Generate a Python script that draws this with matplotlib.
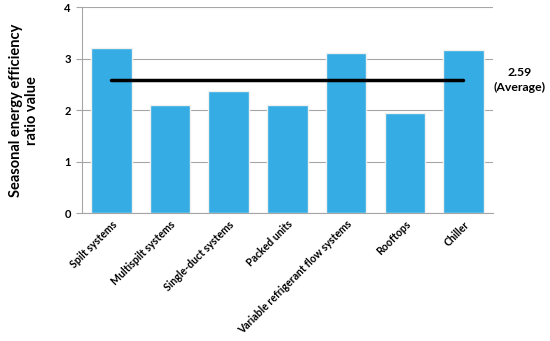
import matplotlib
matplotlib.use("Agg")
import matplotlib.pyplot as plt

categories = ["Spilt systems", "Multispilt systems", "Single-duct systems", "Packed units",
              "Variable refrigerant flow systems", "Rooftops", "Chiller"]
values = [3.20, 2.10, 2.38, 2.10, 3.11, 1.94, 3.17]
average = 2.59
yticks = [0, 1, 2, 3, 4]

plt.rcParams['font.family'] = ['Lato', 'DejaVu Sans']

fig = plt.figure(figsize=(5.5, 3.41), dpi=100)
ax = fig.add_axes([0.149, 0.375, 0.747, 0.604])

x = list(range(len(categories)))
ax.bar(x, values, width=0.69, color="#35ACE3", edgecolor="#f0f0f0", linewidth=1.0, zorder=3)
ax.plot([x[0], x[-1]], [average, average], color="black", linewidth=2.5, zorder=4, solid_capstyle='round')

ax.set_xlim(-0.5, len(categories) - 0.5)
ax.set_ylim(0, 4)
ax.set_yticks(yticks)
ax.set_yticklabels([str(t) for t in yticks], fontweight='bold', fontsize=8)
ax.yaxis.grid(True, color="#a6a6a6", linewidth=0.8, zorder=0)
ax.set_axisbelow(True)

ax.set_xticks(x)
ax.set_xticklabels(categories, rotation=45, ha='right', rotation_mode='anchor',
                   fontweight='bold', fontsize=7.6)

for s in ['top', 'right']:
    ax.spines[s].set_visible(False)
ax.spines['left'].set_color("#a6a6a6")
ax.spines['bottom'].set_color("#a6a6a6")
ax.tick_params(axis='y', length=4, color="#a6a6a6", pad=4)
ax.tick_params(axis='x', length=0, pad=4)

ax.set_ylabel("Seasonal energy efficiency\nratio value", fontweight='bold', fontsize=10.5, labelpad=18)

ax.text(1.065, average, f"{average}\n(Average)", transform=ax.get_yaxis_transform(),
        ha='center', va='center', fontweight='bold', fontsize=8.8, linespacing=1.4)

fig.savefig("out.png", dpi=100)
